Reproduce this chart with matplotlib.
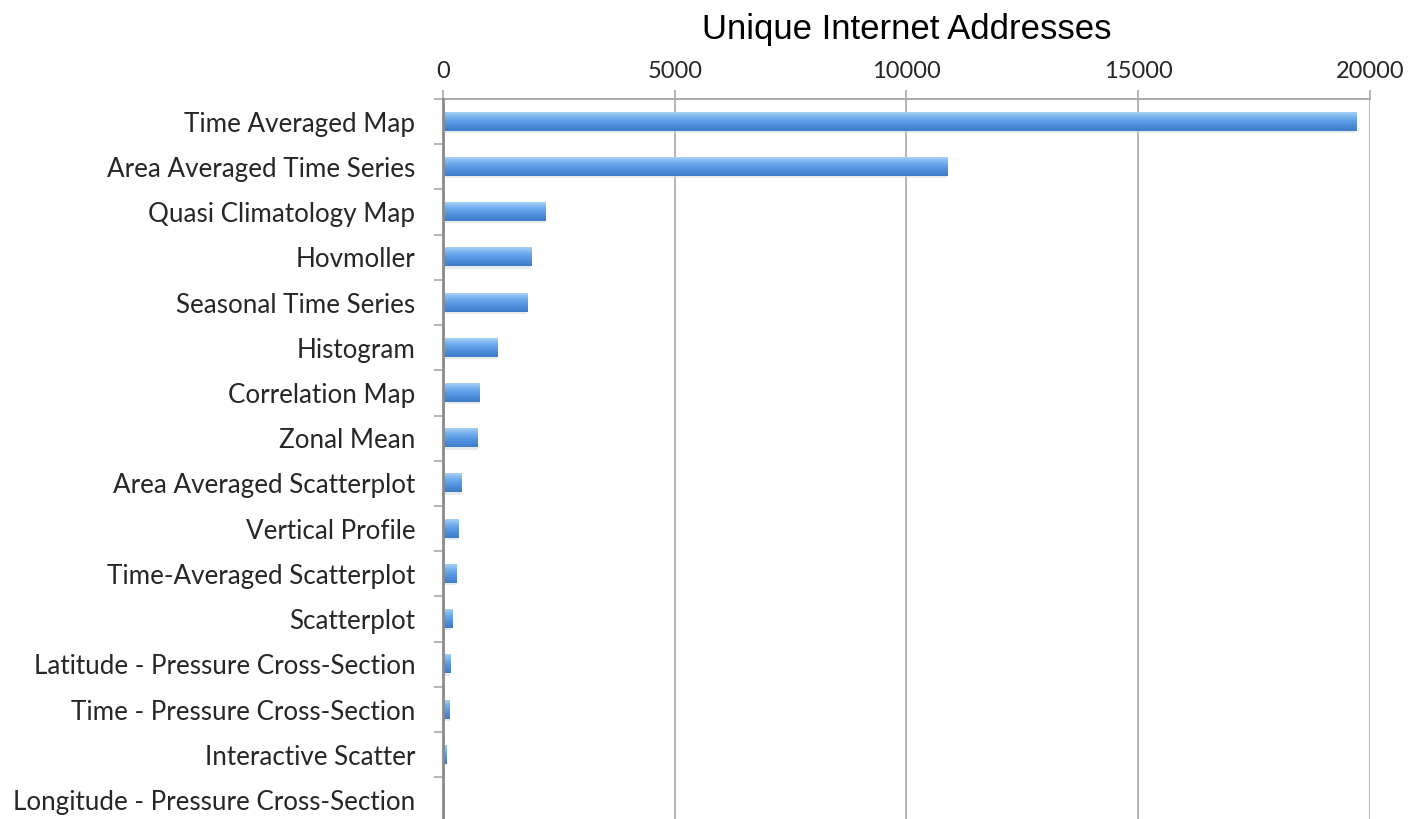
import numpy as np
import matplotlib.pyplot as plt
from matplotlib.colors import LinearSegmentedColormap

# usage counts per service
services = [
    "Time Averaged Map",
    "Area Averaged Time Series",
    "Quasi Climatology Map",
    "Hovmoller",
    "Seasonal Time Series",
    "Histogram",
    "Correlation Map",
    "Zonal Mean",
    "Area Averaged Scatterplot",
    "Vertical Profile",
    "Time-Averaged Scatterplot",
    "Scatterplot",
    "Latitude - Pressure Cross-Section",
    "Time - Pressure Cross-Section",
    "Interactive Scatter",
    "Longitude - Pressure Cross-Section",
]
addresses = [19700, 10880, 2210, 1905, 1820, 1170, 790, 745,
             400, 345, 290, 205, 160, 145, 75, 40]
xticks = [0, 5000, 10000, 15000, 20000]

fig = plt.figure(figsize=(14.09, 8.19), dpi=100)
ax = fig.add_axes([0.3144, -0.0044, 0.6579, 0.8835])

ypos = np.arange(len(services))
bar_h = 0.4

# vertical gradient for the bars (light top, darker bottom)
grad = np.linspace(0, 1, 64).reshape(-1, 1)
cmap = LinearSegmentedColormap.from_list(
    "barblue", ["#a9d0f6", "#78b3ef", "#5b9de6", "#4a8bd8", "#3f7cc6"])

for y, v in zip(ypos, addresses):
    # soft drop shadow
    ax.barh(y + 0.05, v, height=bar_h, left=0, color="#d3d6da", alpha=0.5,
            edgecolor="none", zorder=2)
    ax.imshow(grad, cmap=cmap, aspect="auto", interpolation="bicubic",
              extent=[0, v, y + bar_h / 2, y - bar_h / 2], zorder=3)

ax.set_xlim(0, 20000)
ax.set_ylim(len(services) - 0.5, -0.5)

ax.xaxis.tick_top()
ax.set_xticks(xticks)
ax.set_xticklabels([str(t) for t in xticks], fontfamily="Lato",
                   fontsize=17, color="#262626")
ax.tick_params(axis="x", length=6.5, width=1.2, color="#a8a8a8", pad=6)
ax.grid(axis="x", color="#b4b4b4", lw=1.4, zorder=1)

ax.set_yticks(ypos)
ax.set_yticklabels(services, fontfamily="Lato", fontsize=18.7, color="#262626")
ax.set_yticks(np.arange(-0.5, len(services), 1), minor=True)
ax.tick_params(axis="y", which="major", length=0, pad=20)
ax.tick_params(axis="y", which="minor", length=6.5, width=1.2, color="#a8a8a8")

for side in ["right", "bottom"]:
    ax.spines[side].set_visible(False)
ax.spines["top"].set_color("#a8a8a8")
ax.spines["top"].set_linewidth(1.4)
ax.spines["left"].set_color("#8a8a8a")
ax.spines["left"].set_linewidth(2)
ax.spines["left"].set_zorder(5)

fig.text(0.6437, 0.964, "Unique Internet Addresses", ha="center", va="center",
         fontfamily="Liberation Sans", fontsize=25)

fig.savefig("out.png", dpi=100)
